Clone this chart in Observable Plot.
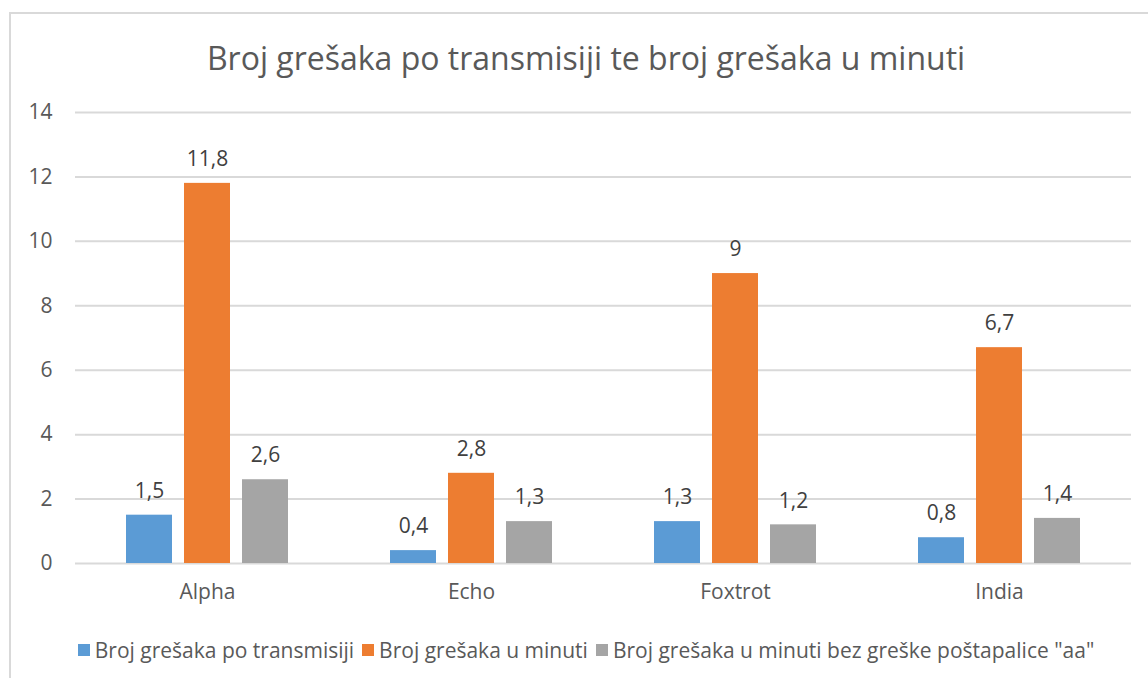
<!DOCTYPE html>
<html>
<head>
<meta charset="utf-8">
<script src="https://cdn.jsdelivr.net/npm/d3@7"></script>
<script src="https://cdn.jsdelivr.net/npm/@observablehq/plot@0.6"></script>
<style>
  html, body { margin: 0; padding: 0; background: #fff; }
  #wrap { position: relative; width: 1148px; height: 678px; overflow: hidden; font-family: "Open Sans", sans-serif; color: #595959; }
  #border { position: absolute; left: 9px; top: 12px; width: 1200px; height: 700px; border-top: 2px solid #D9D9D9; border-left: 2px solid #D9D9D9; box-sizing: border-box; }
  #title { position: absolute; left: 0; width: 1172px; top: 36px; text-align: center; font-size: 32px; line-height: 44px; font-weight: 400; color: #595959; }
  #chart { position: absolute; left: 0; top: 90px; }
  #legend { position: absolute; left: 0; width: 1172px; top: 635px; display: flex; justify-content: center; gap: 8px; font-size: 21px; line-height: 30px; }
  .item { display: flex; align-items: center; gap: 5px; }
  .sw { width: 12px; height: 12px; display: inline-block; }
</style>
</head>
<body>
<div id="wrap">
  <div id="border"></div>
  <div id="title"></div>
  <div id="chart"></div>
  <div id="legend"></div>
</div>
<script>
const titleText = "Broj grešaka po transmisiji te broj grešaka u minuti";
const categories = ["Alpha", "Echo", "Foxtrot", "India"];
const seriesNames = [
  "Broj grešaka po transmisiji",
  "Broj grešaka u minuti",
  "Broj grešaka u minuti bez greške poštapalice \"aa\""
];
const seriesColors = ["#5B9BD5", "#ED7D31", "#A5A5A5"];
const perTransmission = [1.5, 0.4, 1.3, 0.8];
const perMinute = [11.8, 2.8, 9, 6.7];
const perMinuteNoAa = [2.6, 1.3, 1.2, 1.4];
const yTicks = [0, 2, 4, 6, 8, 10, 12, 14];

const seriesValues = [perTransmission, perMinute, perMinuteNoAa];
const data = [];
categories.forEach((c, i) => {
  seriesNames.forEach((s, j) => {
    data.push({category: c, series: s, value: seriesValues[j][i]});
  });
});

document.getElementById("title").textContent = titleText;

const fmt = v => String(v).replace(".", ",");

const chart = Plot.plot({
  width: 1148,
  height: 520,
  marginLeft: 73,
  marginRight: 16,
  marginTop: 22,
  marginBottom: 47,
  style: {fontFamily: "'Open Sans', sans-serif", fontSize: "21px", color: "#595959", background: "transparent"},
  fx: {domain: categories, paddingInner: 0, paddingOuter: 0, label: null, axis: "bottom", tickSize: 0, tickPadding: 21},
  x: {domain: seriesNames, paddingInner: 0.2, paddingOuter: 0.85, axis: null},
  y: {domain: [0, 14], ticks: yTicks, label: null, tickSize: 0, tickPadding: 23, grid: false},
  color: {domain: seriesNames, range: seriesColors},
  marks: [
    Plot.ruleY(yTicks, {stroke: "#D9D9D9", strokeWidth: 2, strokeOpacity: 1}),
    Plot.barY(data, {fx: "category", x: "series", y: "value", fill: "series"}),
    Plot.text(data, {fx: "category", x: "series", y: "value", text: d => fmt(d.value), dy: -24, fill: "#404040", fontSize: 21})
  ]
});
document.getElementById("chart").appendChild(chart);

const legend = document.getElementById("legend");
seriesNames.forEach((s, j) => {
  const it = document.createElement("div");
  it.className = "item";
  const sw = document.createElement("span");
  sw.className = "sw";
  sw.style.background = seriesColors[j];
  const t = document.createElement("span");
  t.textContent = s;
  it.appendChild(sw); it.appendChild(t);
  legend.appendChild(it);
});
</script>
</body>
</html>
